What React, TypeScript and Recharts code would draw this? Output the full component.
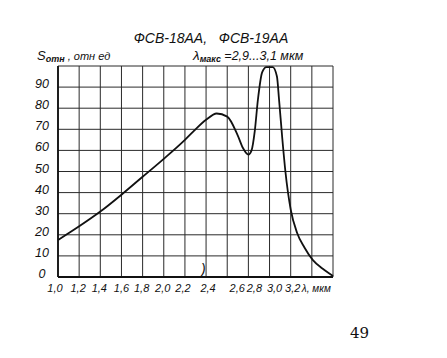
import React from "react";
import { LineChart, Line, XAxis, YAxis, CartesianGrid } from "recharts";

const wavelength = [1.0, 1.2, 1.4, 1.6, 1.8, 2.0, 2.2, 2.3, 2.4, 2.5, 2.6, 2.7, 2.75, 2.8, 2.83, 2.86, 2.89, 2.93, 2.97, 3.03, 3.07, 3.09, 3.12, 3.15, 3.2, 3.26, 3.33, 3.41, 3.5, 3.6];
const sensitivity = [17.5, 24, 31, 39, 47.5, 56, 65, 70, 74.5, 77.5, 76, 67, 61, 58, 60, 69, 84, 97, 99.5, 99.5, 95, 84, 66, 50, 32, 21, 14, 8, 4, 0.5];

const xTicks = [1.0, 1.2, 1.4, 1.6, 1.8, 2.0, 2.2, 2.4, 2.6, 2.8, 3.0, 3.2, 3.4, 3.6];
const yTicks = [0, 10, 20, 30, 40, 50, 60, 70, 80, 90, 100];
const xTickLabels = ["1,0", "1,2", "1,4", "1,6", "1,8", "2,0", "2,2", "2,4", "2,6", "2,8", "3,0", "3,2", "λ, мкм", ""];
const yTickLabels = ["0", "10", "20", "30", "40", "50", "60", "70", "80", "90", ""];

const titleText = "ФСВ-18АА,\u00A0\u00A0 ФСВ-19АА";
const pageNumber = "49";

const data = wavelength.map((w, i) => ({ w, s: sensitivity[i] }));

const xLabelShift = [-3, -1, -1, 0, -1, -1, -2, 2, 10, 6, 5, 2, -10, 0];
const FONT = "'Liberation Sans', 'DejaVu Sans', sans-serif";

const XTick = (props: any) => {
  const { x, y, index } = props;
  const label = xTickLabels[index] ?? "";
  const isUnit = index === 12;
  return (
    <text
      x={x + (xLabelShift[index] || 0)}
      y={y + 7}
      textAnchor={isUnit ? "start" : "middle"}
      fontFamily={FONT}
      fontStyle="italic"
      fontSize={isUnit ? 10 : 11}
      fill="#111"
    >
      {label}
    </text>
  );
};

const YTick = (props: any) => {
  const { y, index } = props;
  return (
    <text
      x={34}
      y={y + 1}
      textAnchor="middle"
      fontFamily={FONT}
      fontStyle="italic"
      fontSize={12.5}
      fill="#111"
    >
      {yTickLabels[index] ?? ""}
    </text>
  );
};

export default function App() {
  return (
    <div style={{ position: "relative", width: 431, height: 342, background: "#fff" }}>
      <LineChart
        width={431}
        height={342}
        data={data}
        margin={{ top: 58, right: 106, bottom: 53, left: 0 }}
      >
        <CartesianGrid
          stroke="#2a2a2a"
          strokeWidth={1}
          horizontalValues={yTicks}
          verticalValues={xTicks}
        />
        <XAxis
          dataKey="w"
          type="number"
          domain={[1.0, 3.6]}
          ticks={xTicks}
          interval={0}
          tickLine={false}
          axisLine={{ stroke: "#111", strokeWidth: 1.8 }}
          tick={<XTick />}
          height={20}
        />
        <YAxis
          type="number"
          domain={[0, 100]}
          ticks={yTicks}
          interval={0}
          tickLine={false}
          axisLine={{ stroke: "#111", strokeWidth: 1.8 }}
          tick={<YTick />}
          width={50}
        />
        <Line
          type="monotone"
          dataKey="s"
          stroke="#111"
          strokeWidth={1.8}
          dot={false}
          isAnimationActive={false}
        />
      </LineChart>
      <svg
        width={431}
        height={342}
        style={{ position: "absolute", left: 0, top: 0, pointerEvents: "none" }}
      >
        <text x={203} y={35} textAnchor="middle" fontFamily={FONT} fontStyle="italic" fontSize={14} fill="#111">
          {titleText}
        </text>
        <text x={29} y={52} fontFamily={FONT} fontStyle="italic" fontSize={13} fill="#111">
          S
          <tspan fontSize={9} dy={2} fontWeight="bold">отн</tspan>
          <tspan fontSize={11} dy={-2}>{"\u00A0,\u00A0отн ед"}</tspan>
        </text>
        <text x={185} y={52} fontFamily={FONT} fontStyle="italic" fontSize={13.5} fill="#111">
          λ
          <tspan fontSize={9} dy={2} fontWeight="bold">макс</tspan>
          <tspan fontSize={12.5} dy={-2}>{"\u00A0=2,9...3,1 мкм"}</tspan>
        </text>
        <text x={193} y={266} fontFamily={FONT} fontStyle="italic" fontSize={14} fill="#111">)</text>
        <text x={342} y={330} fontFamily="'DejaVu Serif', 'Liberation Serif', serif" fontSize={15} fill="#111">
          {pageNumber}
        </text>
      </svg>
    </div>
  );
}
